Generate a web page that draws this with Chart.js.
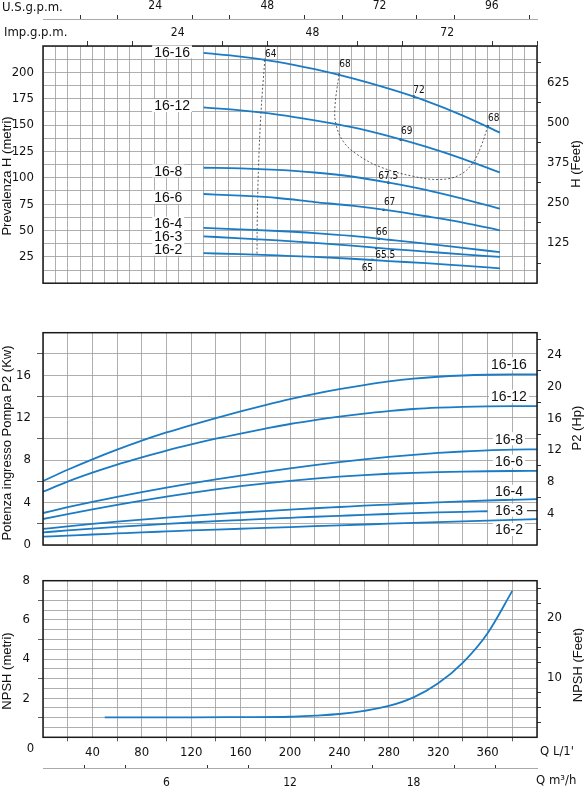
<!DOCTYPE html>
<html>
<head>
<meta charset="utf-8">
<script src="https://cdn.jsdelivr.net/npm/chart.js@4.4.1/dist/chart.umd.min.js"></script>
<style>
  body { margin: 0; background: #fff; width: 584px; height: 787px; position: relative; overflow: hidden; }
  canvas { position: absolute; left: 0; }
  #head { top: 0; }
  #power { top: 310px; }
  #npsh { top: 560px; }
</style>
</head>
<body>
<canvas id="head" width="584" height="300"></canvas>
<canvas id="power" width="584" height="250"></canvas>
<canvas id="npsh" width="584" height="227"></canvas>
<script>
// ---- data ----
const models = ['16-16', '16-12', '16-8', '16-6', '16-4', '16-3', '16-2'];

// head curves, Q in L/min, H in metres
const headQ = [130, 160, 190, 220, 250, 280, 310, 340, 370];
const head16_16 = [218.4, 215, 210, 203, 194.5, 184.5, 173, 159, 142.8];
const head16_12 = [166.8, 164, 160, 154.5, 148, 139.5, 129.5, 118, 105];
const head16_8 = [109.5, 109, 107.5, 105, 101.2, 95.3, 88.5, 80, 70.8];
const head16_6 = [84.6, 83, 80.8, 77, 73.5, 69, 63.5, 57.5, 50.1];
const head16_4 = [52.5, 51, 49.5, 47.5, 44.8, 41.2, 37.5, 33.5, 29.4];
const head16_3 = [44.4, 42.6, 40.6, 38.3, 35.6, 32.6, 30, 27.4, 24.9];
const head16_2 = [28.5, 27.5, 26.3, 25, 23.2, 21, 19, 16.6, 14.1];

// efficiency points (%) and iso-efficiency lines
const effQ = [179.6, 239.7, 300.4, 360.1, 289.6, 279.6, 275.8, 271.9, 269.8, 266.7];
const effH = [211.8, 198, 177, 148.8, 136.2, 95.4, 69.6, 42, 33.3, 22.2];
const effLabels = ['64', '68', '72', '68', '69', '67.5', '67', '66', '65.5', '65'];
const isoLeftQ = [179.6, 176.5, 174.5, 173.5, 173.3];
const isoLeftH = [211.8, 162, 110, 60, 27.3];
const isoRightQ = [239.7, 236.4, 237.2, 243.2, 254, 272.9, 299.8, 321.5, 337.7, 348.4, 355.2, 360.1];
const isoRightH = [198, 167.4, 150.9, 134.4, 122.4, 110.4, 101.4, 98.4, 102.9, 114.9, 131.4, 148.8];

// power curves, P2 in kW
const powerQ = [0, 20, 40, 60, 80, 100, 120, 140, 160, 180, 200, 220, 240, 260, 280, 300, 320, 340, 360, 380, 400];
const power16_16 = [6.03, 7.09, 8.07, 8.98, 9.83, 10.6, 11.3, 11.96, 12.59, 13.18, 13.74, 14.24, 14.68, 15.07, 15.41, 15.67, 15.85, 15.97, 16.04, 16.07, 16.08];
const power16_12 = [5.02, 5.97, 6.81, 7.57, 8.25, 8.89, 9.47, 10.01, 10.5, 10.96, 11.4, 11.77, 12.1, 12.38, 12.61, 12.81, 12.94, 13.02, 13.06, 13.08, 13.09];
const power16_8 = [3.01, 3.56, 4.07, 4.54, 4.98, 5.4, 5.8, 6.18, 6.54, 6.88, 7.21, 7.52, 7.81, 8.07, 8.3, 8.5, 8.67, 8.81, 8.92, 8.98, 9.01];
const power16_6 = [2.45, 2.91, 3.35, 3.77, 4.17, 4.55, 4.91, 5.24, 5.54, 5.81, 6.05, 6.26, 6.44, 6.59, 6.71, 6.8, 6.87, 6.92, 6.95, 6.97, 6.98];
const power16_4 = [1.51, 1.76, 1.99, 2.2, 2.4, 2.58, 2.75, 2.91, 3.06, 3.2, 3.33, 3.46, 3.58, 3.7, 3.81, 3.92, 4.02, 4.11, 4.19, 4.26, 4.33];
const power16_3 = [1.19, 1.37, 1.54, 1.7, 1.85, 1.99, 2.12, 2.24, 2.35, 2.46, 2.56, 2.66, 2.75, 2.84, 2.92, 3.0, 3.07, 3.13, 3.18, null, null];
const power16_2 = [0.78, 0.88, 0.99, 1.09, 1.19, 1.28, 1.37, 1.45, 1.53, 1.61, 1.69, 1.77, 1.85, 1.93, 2.01, 2.08, 2.15, 2.22, 2.29, 2.36, 2.43];

// NPSH curve, metres
const npshQ = [50, 80, 120, 160, 200, 220, 240, 260, 280, 300, 320, 340, 360, 380];
const npshM = [1.02, 1.02, 1.02, 1.03, 1.05, 1.11, 1.19, 1.35, 1.6, 2.04, 2.76, 3.82, 5.32, 7.48];

// unit conversions for secondary axes
const L_PER_USGPM = 3.785, L_PER_IMPGPM = 4.546, L_PER_M3H = 16.667;
const FT_PER_M = 3.2808, HP_PER_KW = 1.341;

// ---- styling ----
const blue = '#1b7bc4';
const gridColor = '#9b9b9b';
const ink = '#333';
const numFont = "'DejaVu Sans Condensed', 'Liberation Sans Narrow', 'DejaVu Sans', sans-serif";
const textFont = "'Liberation Sans', Arial, sans-serif";

Chart.defaults.animation = false;
Chart.defaults.devicePixelRatio = 1;
Chart.defaults.color = '#111';

function pts(xs, ys) {
  const out = [];
  xs.forEach((x, i) => { if (ys[i] != null) out.push({ x: x, y: ys[i] }); });
  return out;
}
// chart.js may spread ticks evenly (7.999 instead of 8), so compare loosely
function isStep(v, step) { const r = v / step; return Math.abs(r - Math.round(r)) < 2e-3; }
function labelAt(step, lo, hi) {
  return v => (isStep(v, step) && v >= lo - 0.01 && v <= hi + 0.01) ? String(Math.round(v / step) * step) : '';
}
function tickOff(step, lo, hi) {
  return c => (c.tick && isStep(c.tick.value, step) && c.tick.value >= lo - 0.01 && c.tick.value <= hi + 0.01) ? 'rgba(0,0,0,0)' : ink;
}
function curve(ys, xs) {
  return { data: pts(xs, ys), borderColor: blue, borderWidth: 1.8, pointRadius: 0, cubicInterpolationMode: 'monotone', fill: false };
}

// frame, curve labels, efficiency labels and free texts
const decor = {
  id: 'decor',
  afterDatasetsDraw(chart, args, o) {
    const ctx = chart.ctx, a = chart.chartArea;
    const sx = chart.scales.x, sy = chart.scales.y;
    ctx.save();
    ctx.strokeStyle = '#1a1a1a';
    ctx.lineWidth = 1.5;
    ctx.strokeRect(a.left, a.top, a.right - a.left, a.bottom - a.top);

    (o.labels || []).forEach(l => {
      ctx.font = '14px ' + textFont;
      const x = sx.getPixelForValue(l.q), y = sy.getPixelForValue(l.v);
      const w = ctx.measureText(l.text).width;
      const left = o.align === 'center' ? x - w / 2 : x;
      ctx.fillStyle = '#fff';
      ctx.fillRect(left - 2, y - 7, w + 4, 13);
      ctx.fillStyle = '#111';
      ctx.textAlign = 'left';
      ctx.textBaseline = 'middle';
      ctx.fillText(l.text, left, y + 0.5);
      if (l.lead) {
        ctx.strokeStyle = '#111';
        ctx.lineWidth = 1;
        ctx.beginPath();
        ctx.moveTo(left + w + 4, y);
        ctx.lineTo(a.right, y);
        ctx.stroke();
      }
    });

    if (o.eff) {
      ctx.font = '10px ' + numFont;
      ctx.fillStyle = '#111';
      ctx.textAlign = 'center';
      ctx.textBaseline = 'middle';
      effLabels.forEach((t, i) => {
        const off = o.effOffsets[i];
        ctx.fillText(t, sx.getPixelForValue(effQ[i]) + off[0], sy.getPixelForValue(effH[i]) + off[1]);
      });
    }

    (o.notes || []).forEach(n => {
      ctx.save();
      ctx.font = n.font;
      ctx.fillStyle = '#111';
      ctx.textAlign = n.align || 'left';
      ctx.textBaseline = 'middle';
      ctx.translate(n.x, n.y);
      if (n.rot) ctx.rotate(-Math.PI / 2);
      ctx.fillText(n.text, 0, 0);
      ctx.restore();
    });
    ctx.restore();
  }
};

const titleFont = '13px ' + textFont;
const unitFont = '13px ' + numFont;

// ---- head chart ----
new Chart(document.getElementById('head'), {
  type: 'line',
  data: {
    datasets: [
      curve(head16_16, headQ), curve(head16_12, headQ), curve(head16_8, headQ), curve(head16_6, headQ),
      curve(head16_4, headQ), curve(head16_3, headQ), curve(head16_2, headQ),
      { data: pts(isoLeftQ, isoLeftH), borderColor: '#333', borderWidth: 0.8, borderDash: [2, 2], pointRadius: 0, tension: 0.4 },
      { data: pts(isoRightQ, isoRightH), borderColor: '#333', borderWidth: 0.8, borderDash: [2, 2], pointRadius: 0, tension: 0.4 },
      { data: pts(effQ, effH), showLine: false, pointStyle: 'rect', pointRadius: 1.5, pointBackgroundColor: '#111', pointBorderWidth: 0 }
    ]
  },
  options: {
    responsive: false,
    layout: { padding: 0 },
    plugins: {
      legend: { display: false }, tooltip: { enabled: false },
      decor: {
        align: 'left',
        labels: [
          { text: models[0], q: 90, v: 219 }, { text: models[1], q: 90, v: 168 },
          { text: models[2], q: 90, v: 106 }, { text: models[3], q: 90, v: 81 },
          { text: models[4], q: 90, v: 56.4 }, { text: models[5], q: 90, v: 43.8 },
          { text: models[6], q: 90, v: 31.8 }
        ],
        eff: true,
        effOffsets: [[6, -6], [6, -10], [5, -6], [6, -8], [6, -8], [0, -6], [6, -7], [3, -7], [9, 7], [-5, 9]],
        notes: [
          { text: 'U.S.g.p.m.', x: 2, y: 8, font: unitFont },
          { text: 'Imp.g.p.m.', x: 4, y: 33, font: unitFont },
          { text: 'Prevalenza H (metri)', x: 7.5, y: 176, font: titleFont, align: 'center', rot: true },
          { text: 'H (Feet)', x: 576, y: 164, font: titleFont, align: 'center', rot: true }
        ]
      }
    },
    scales: {
      x: {
        type: 'linear', min: 0, max: 400, position: 'bottom',
        ticks: { display: false, stepSize: 10, autoSkip: false },
        grid: { color: gridColor, lineWidth: 0.8, drawTicks: false },
        border: { display: false },
        afterFit: s => { s.height = 4; }
      },
      imp: {
        type: 'linear', min: 0, max: 400 / L_PER_IMPGPM, position: 'top', weight: 0,
        ticks: { stepSize: 8, includeBounds: false, autoSkip: false, maxRotation: 0, padding: 1, font: { family: numFont, size: 12 }, callback: labelAt(24, 24, 72) },
        grid: { drawOnChartArea: false, tickLength: 5, tickColor: tickOff(24, 0, 72) },
        border: { display: false },
        afterFit: s => { s.height = 27; }
      },
      us: {
        type: 'linear', min: 0, max: 400 / L_PER_USGPM, position: 'top', weight: 1,
        ticks: { stepSize: 8, includeBounds: false, autoSkip: false, maxRotation: 0, padding: 2, font: { family: numFont, size: 12 }, callback: labelAt(24, 24, 96) },
        grid: { drawOnChartArea: false, tickLength: 4, tickColor: tickOff(24, 0, 96) },
        border: { display: true, color: '#aaa', width: 1 },
        afterFit: s => { s.height = 19; }
      },
      y: {
        type: 'linear', min: 0, max: 225, position: 'left',
        ticks: { stepSize: 12.5, autoSkip: false, padding: 9, font: { family: numFont, size: 13 }, callback: labelAt(25, 25, 200) },
        grid: { color: gridColor, lineWidth: 0.8, drawTicks: false },
        border: { display: false },
        afterFit: s => { s.width = 43; }
      },
      ft: {
        type: 'linear', min: 0, max: 225 * FT_PER_M, position: 'right',
        ticks: { stepSize: 62.5, includeBounds: false, autoSkip: false, padding: 6, font: { family: numFont, size: 13 }, callback: labelAt(125, 125, 625) },
        grid: { drawOnChartArea: false, tickLength: 4, tickColor: tickOff(125, 0, 625) },
        border: { display: false },
        afterFit: s => { s.width = 47; }
      }
    }
  },
  plugins: [decor]
});

// ---- power chart ----
new Chart(document.getElementById('power'), {
  type: 'line',
  data: {
    datasets: [
      curve(power16_16, powerQ), curve(power16_12, powerQ), curve(power16_8, powerQ), curve(power16_6, powerQ),
      curve(power16_4, powerQ), curve(power16_3, powerQ), curve(power16_2, powerQ)
    ]
  },
  options: {
    responsive: false,
    layout: { padding: { top: 22.7 } },
    plugins: {
      legend: { display: false }, tooltip: { enabled: false },
      decor: {
        align: 'center',
        labels: [
          { text: models[0], q: 377.3, v: 17.02 }, { text: models[1], q: 377.3, v: 13.97 },
          { text: models[2], q: 377.3, v: 9.96 }, { text: models[3], q: 377.3, v: 7.85 },
          { text: models[4], q: 377.3, v: 5.02 }, { text: models[5], q: 377.3, v: 3.23, lead: true },
          { text: models[6], q: 377.3, v: 1.41 }
        ],
        notes: [
          { text: 'Potenza ingresso Pompa P2 (Kw)', x: 7.5, y: 133, font: titleFont, align: 'center', rot: true },
          { text: 'P2 (Hp)', x: 577, y: 118, font: titleFont, align: 'center', rot: true }
        ]
      }
    },
    scales: {
      x: {
        type: 'linear', min: 0, max: 400, position: 'bottom',
        ticks: { display: false, stepSize: 20, autoSkip: false },
        grid: { color: gridColor, lineWidth: 0.8, drawTicks: false },
        border: { display: false },
        afterFit: s => { s.height = 15; }
      },
      y: {
        type: 'linear', min: 0, max: 20, position: 'left',
        ticks: { stepSize: 2, autoSkip: false, padding: 6, font: { family: numFont, size: 13 }, callback: labelAt(4, 0, 16) },
        grid: { color: gridColor, lineWidth: 0.8, tickLength: 6, tickColor: tickOff(4, 0, 20) },
        border: { display: false },
        afterFit: s => { s.width = 43; }
      },
      hp: {
        type: 'linear', min: 0, max: 20 * HP_PER_KW, position: 'right',
        ticks: { stepSize: 2, includeBounds: false, autoSkip: false, padding: 6, font: { family: numFont, size: 13 }, callback: labelAt(4, 4, 24) },
        grid: { drawOnChartArea: false, tickLength: 4, tickColor: tickOff(4, 0, 24) },
        border: { display: false },
        afterFit: s => { s.width = 47; }
      }
    }
  },
  plugins: [decor]
});

// ---- NPSH chart ----
new Chart(document.getElementById('npsh'), {
  type: 'line',
  data: { datasets: [curve(npshM, npshQ)] },
  options: {
    responsive: false,
    layout: { padding: { top: 20.7 } },
    plugins: {
      legend: { display: false }, tooltip: { enabled: false },
      decor: {
        notes: [
          { text: 'NPSH (metri)', x: 7.5, y: 111, font: titleFont, align: 'center', rot: true },
          { text: 'NPSH (Feet)', x: 578, y: 105, font: titleFont, align: 'center', rot: true },
          { text: '0', x: 30.5, y: 189, font: unitFont, align: 'center' },
          { text: "Q L/1'", x: 540, y: 192, font: unitFont },
          { text: 'Q m\u00b3/h', x: 536, y: 221, font: unitFont }
        ]
      }
    },
    scales: {
      x: {
        type: 'linear', min: 0, max: 400, position: 'bottom', weight: 0,
        ticks: { stepSize: 20, autoSkip: false, maxRotation: 0, padding: 4, font: { family: numFont, size: 13 }, callback: labelAt(40, 40, 360) },
        grid: { color: gridColor, lineWidth: 0.8, tickLength: 4, tickColor: tickOff(40, 0, 400) },
        border: { display: false },
        afterFit: s => { s.height = 31.7; }
      },
      m3h: {
        type: 'linear', min: 0, max: 400 / L_PER_M3H, position: 'bottom', weight: 1,
        ticks: { stepSize: 2, includeBounds: false, autoSkip: false, maxRotation: 0, padding: 10.5, font: { family: numFont, size: 12 }, callback: labelAt(6, 6, 18) },
        grid: { drawOnChartArea: false, tickLength: -4, tickColor: tickOff(6, 0, 24) },
        border: { display: true, color: '#aaa', width: 1 },
        afterFit: s => { s.height = 18; }
      },
      y: {
        type: 'linear', min: 0, max: 8, position: 'left',
        ticks: { stepSize: 0.5, autoSkip: false, padding: 8, font: { family: numFont, size: 13 }, callback: labelAt(2, 2, 8) },
        grid: { color: gridColor, lineWidth: 0.8, tickLength: 5, tickColor: c => (c.tick && isStep(c.tick.value, 1) && !isStep(c.tick.value, 2)) ? ink : 'rgba(0,0,0,0)' },
        border: { display: false },
        afterFit: s => { s.width = 43; }
      },
      ftn: {
        type: 'linear', min: 0, max: 8 * FT_PER_M, position: 'right',
        ticks: { stepSize: 2.5, includeBounds: false, autoSkip: false, padding: 6, font: { family: numFont, size: 13 }, callback: labelAt(10, 10, 20) },
        grid: { drawOnChartArea: false, tickLength: 4, tickColor: tickOff(10, 0, 20) },
        border: { display: false },
        afterFit: s => { s.width = 47; }
      }
    }
  },
  plugins: [decor]
});
</script>
</body>
</html>
